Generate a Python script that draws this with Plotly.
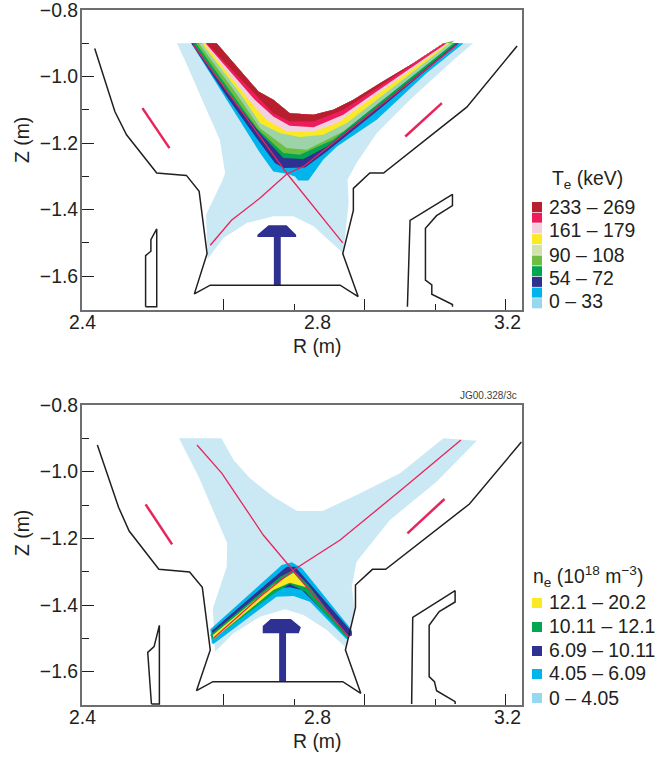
import plotly.graph_objects as go

# ---------- colours ----------
DARKRED, CRIMSON, PINK, YELLOW = "#b71f2e", "#ed1c5c", "#f3d0e0", "#fbe924"
PALE, SEAFOAM, MIDGREEN, GREEN = "#cfe3ab", "#9dd3a8", "#6fbe44", "#00a651"
NAVY, CYAN, SKY, BAND0 = "#2e3192", "#00b4ec", "#96d8f0", "#cbe9f4"
LINE = "#e8245a"
INK = "#231f20"
FONT = "Liberation Sans, Arial, sans-serif"
TXT = 19.4

# ---------- axis ticks ----------
x_major = [2.6667, 2.9333, 3.2]
x_minor = [2.8, 3.0667]
y_major = [-0.8, -1.0, -1.2, -1.4, -1.6]
y_minor = [-0.9, -1.1, -1.3, -1.5]
y_labels = ["−0.8", "−1.0", "−1.2", "−1.4", "−1.6"]
x_labels = ["2.4", "2.8", "3.2"]
x_label_at = [2.4, 2.844, 3.203]

# ---------- top panel: machine outline ----------
wall_r_t = [2.424,2.462,2.484,2.541,2.597,2.621,2.636,2.612,2.642,2.887,2.921,2.892,2.912,2.912,2.943,2.969,3.126,3.221]
wall_z_t = [-.916,-1.105,-1.175,-1.29,-1.297,-1.345,-1.532,-1.653,-1.627,-1.627,-1.661,-1.532,-1.402,-1.336,-1.29,-1.29,-1.092,-.908]
rstruct_r_t = [3.014,3.019,3.099,3.099,3.069,3.048,3.048,3.060,3.060,3.099,3.099]
rstruct_z_t = [-1.692,-1.432,-1.354,-1.388,-1.418,-1.456,-1.612,-1.626,-1.654,-1.685,-1.692]
lstruct_r_t = [2.520,2.520,2.530,2.530,2.541,2.541,2.520]
lstruct_z_t = [-1.692,-1.538,-1.525,-1.49,-1.458,-1.692,-1.692]
tee_r_t = [2.731,2.752,2.786,2.804,2.804,2.775,2.775,2.762,2.762,2.731]
tee_z_t = [-1.475,-1.447,-1.447,-1.475,-1.482,-1.482,-1.627,-1.627,-1.482,-1.482]

# ---------- top panel: separatrix and strike lines ----------
sepA_r_t = [2.610,2.787,2.892]
sepA_z_t = [-.905,-1.292,-1.50]
sepB_r_t = [3.107,2.937,2.818,2.787,2.736,2.682,2.642]
sepB_z_t = [-.905,-1.12,-1.27,-1.292,-1.365,-1.432,-1.507]
strikeL_r_t, strikeL_z_t = [2.514,2.565], [-1.095,-1.215]
strikeR_r_t, strikeR_z_t = [3.010,3.079], [-1.18,-1.08]

# ---------- top panel: Te bands ----------
te0_r = [2.579,2.594,2.635,2.660,2.670,2.664,2.634,2.635,2.637,2.667,2.711,2.761,2.799,2.837,2.868,2.893,2.903,2.901,2.918,2.956,3.019,3.101,3.138]
te0_z = [-.9,-.95,-1.10,-1.19,-1.29,-1.315,-1.415,-1.47,-1.548,-1.485,-1.44,-1.42,-1.42,-1.45,-1.495,-1.532,-1.38,-1.31,-1.26,-1.17,-1.07,-.95,-.9]
ridge_r = [2.654,2.733,2.761,2.792,2.837,2.874,2.912,2.962,3.025,3.082]
ridge_z = [-.9,-1.045,-1.07,-1.11,-1.115,-1.10,-1.07,-1.02,-.96,-.9]
te_cyan_r = [2.606,2.673,2.736,2.761,2.786,2.802,2.808,2.827,2.855,2.881,2.956,3.050,3.120]
te_cyan_z = [-.9,-1.07,-1.23,-1.285,-1.292,-1.30,-1.312,-1.312,-1.25,-1.21,-1.13,-.99,-.9]
te_navy_r = [2.606,2.673,2.736,2.764,2.780,2.821,2.862,2.956,3.111]
te_navy_z = [-.9,-1.06,-1.20,-1.26,-1.275,-1.273,-1.225,-1.105,-.9]
te_green_r = [2.610,2.673,2.736,2.780,2.818,2.862,2.943,3.107]
te_green_z = [-.9,-1.045,-1.17,-1.245,-1.248,-1.21,-1.11,-.9]
te_mid_r = [2.615,2.673,2.730,2.780,2.811,2.874,3.103]
te_mid_z = [-.9,-1.03,-1.155,-1.23,-1.235,-1.19,-.892]
te_sea_r = [2.620,2.686,2.736,2.786,2.824,2.893,3.101]
te_sea_z = [-.9,-1.04,-1.155,-1.215,-1.22,-1.165,-.9]
te_yel_r = [2.626,2.698,2.736,2.774,2.811,2.855,2.899,3.094]
te_yel_z = [-.9,-1.05,-1.14,-1.17,-1.182,-1.175,-1.14,-.9]
te_pink_r = [2.630,2.717,2.748,2.786,2.837,2.881,2.956,3.091]
te_pink_z = [-.9,-1.075,-1.13,-1.165,-1.165,-1.14,-1.055,-.9]
te_crim_r = [2.633,2.726,2.761,2.792,2.837,2.893,2.956,3.088]
te_crim_z = [-.9,-1.07,-1.12,-1.148,-1.152,-1.115,-1.045,-.9]
te_dark_r = [2.635,2.730,2.761,2.792,2.837,2.893,2.956,3.082]
te_dark_z = [-.9,-1.06,-1.11,-1.135,-1.135,-1.10,-1.035,-.9]

# ---------- bottom panel: machine outline ----------
wall_r_b = [2.429,2.469,2.489,2.545,2.603,2.627,2.642,2.616,2.647,2.892,2.926,2.897,2.916,2.916,2.948,2.973,3.131,3.229]
wall_z_b = [-.92,-1.107,-1.178,-1.293,-1.301,-1.347,-1.535,-1.657,-1.63,-1.63,-1.665,-1.535,-1.407,-1.34,-1.293,-1.293,-1.097,-.911]
rstruct_r_b = [3.022,3.024,3.104,3.104,3.074,3.055,3.055,3.065,3.069,3.104,3.104]
rstruct_z_b = [-1.697,-1.437,-1.357,-1.391,-1.42,-1.461,-1.615,-1.63,-1.657,-1.69,-1.697]
lstruct_r_b = [2.531,2.524,2.536,2.546,2.546,2.531]
lstruct_z_b = [-1.697,-1.542,-1.525,-1.461,-1.697,-1.697]
tee_r_b = [2.741,2.741,2.756,2.794,2.813,2.809,2.785,2.785,2.772,2.772]
tee_z_b = [-1.485,-1.463,-1.442,-1.442,-1.467,-1.485,-1.485,-1.63,-1.63,-1.485]

# ---------- bottom panel: separatrix and strike lines ----------
sepA_r_b = [2.617,2.664,2.742,2.789,2.903]
sepA_z_b = [-.92,-1.005,-1.19,-1.28,-1.495]
sepB_r_b = [3.115,3.006,2.887,2.799,2.736,2.648]
sepB_z_b = [-.905,-1.05,-1.205,-1.295,-1.375,-1.50]
strikeL_r_b, strikeL_z_b = [2.520,2.570], [-1.098,-1.218]
strikeR_r_b, strikeR_z_b = [3.014,3.084], [-1.185,-1.082]

# ---------- bottom panel: ne bands ----------
ne0_r = [2.583,2.663,2.686,2.717,2.761,2.806,2.854,2.925,3.000,3.082,3.145,3.069,2.981,2.918,2.909,2.914,2.896,2.862,2.818,2.783,2.736,2.686,2.651,2.647,2.673,2.674,2.620]
ne0_z = [-.9,-.9,-.965,-1.02,-1.075,-1.118,-1.118,-1.065,-1.005,-.9,-.907,-1.03,-1.145,-1.27,-1.345,-1.41,-1.525,-1.475,-1.43,-1.413,-1.435,-1.485,-1.54,-1.41,-1.285,-1.215,-1.015]
ne_cyan_r = [2.642,2.777,2.796,2.815,2.909,2.909,2.899,2.830,2.799,2.767,2.648,2.645]
ne_cyan_z = [-1.473,-1.28,-1.272,-1.29,-1.475,-1.49,-1.503,-1.39,-1.373,-1.375,-1.517,-1.515]
ne_navy_r = [2.645,2.786,2.802,2.909,2.909,2.901,2.815,2.792,2.770,2.649]
ne_navy_z = [-1.477,-1.285,-1.285,-1.48,-1.492,-1.492,-1.355,-1.347,-1.35,-1.50]
ne_green_r = [2.642,2.774,2.799,2.827,2.903,2.896,2.821,2.792,2.761,2.647]
ne_green_z = [-1.49,-1.315,-1.295,-1.34,-1.50,-1.493,-1.36,-1.337,-1.367,-1.503]
ne_yel_r = [2.647,2.761,2.799,2.823,2.792,2.761,2.648]
ne_yel_z = [-1.49,-1.34,-1.303,-1.347,-1.333,-1.355,-1.503]

# ---------- legends ----------
te_title = "T<sub>e</sub> (keV)"
te_colors = [DARKRED, CRIMSON, PINK, YELLOW, PALE, MIDGREEN, GREEN, NAVY, CYAN, SKY]
te_texts = ["233 – 269", "161 – 179", "90 – 108", "54 – 72", "0 – 33"]
ne_title = "n<sub>e</sub> (10<sup>18</sup> m<sup>−3</sup>)"
ne_colors = [YELLOW, GREEN, NAVY, CYAN, SKY]
ne_texts = ["12.1 – 20.2", "10.11 – 12.1", "6.09 – 10.11", "4.05 – 6.09", "0 – 4.05"]

W, H = 661, 760
def px(x): return x / W
def py(y): return 1 - y / H

fig = go.Figure()

def poly(r, z, color, ax):
    fig.add_trace(go.Scatter(x=r, y=z, mode="lines", fill="toself", fillcolor=color,
                             line=dict(width=0, color=color), hoverinfo="skip",
                             showlegend=False, xaxis=ax[0], yaxis=ax[1]))

def band(lower_r, lower_z, color, ax):
    poly(lower_r + ridge_r[::-1], lower_z + ridge_z[::-1], color, ax)

def line(r, z, color, width, ax):
    fig.add_trace(go.Scatter(x=r, y=z, mode="lines", line=dict(color=color, width=width),
                             hoverinfo="skip", showlegend=False, xaxis=ax[0], yaxis=ax[1]))

TOP = ("x", "y")
BOT = ("x2", "y2")

# top panel
for lr, lz, c in [(te0_r, te0_z, BAND0), (te_cyan_r, te_cyan_z, CYAN), (te_navy_r, te_navy_z, NAVY),
                  (te_green_r, te_green_z, GREEN), (te_mid_r, te_mid_z, MIDGREEN),
                  (te_sea_r, te_sea_z, SEAFOAM), (te_yel_r, te_yel_z, YELLOW),
                  (te_pink_r, te_pink_z, PINK), (te_crim_r, te_crim_z, CRIMSON),
                  (te_dark_r, te_dark_z, DARKRED)]:
    band(lr, lz, c, TOP)
poly(tee_r_t, tee_z_t, NAVY, TOP)
line(wall_r_t, wall_z_t, INK, 1.5, TOP)
line(rstruct_r_t, rstruct_z_t, INK, 1.5, TOP)
line(lstruct_r_t, lstruct_z_t, INK, 1.5, TOP)
line(sepA_r_t, sepA_z_t, LINE, 1.3, TOP)
line(sepB_r_t, sepB_z_t, LINE, 1.3, TOP)
line(strikeL_r_t, strikeL_z_t, LINE, 2.5, TOP)
line(strikeR_r_t, strikeR_z_t, LINE, 2.5, TOP)

# bottom panel
poly(ne0_r, ne0_z, BAND0, BOT)
for r, z, c in [(ne_cyan_r, ne_cyan_z, CYAN), (ne_navy_r, ne_navy_z, NAVY),
                (ne_green_r, ne_green_z, GREEN), (ne_yel_r, ne_yel_z, YELLOW)]:
    poly(r, z, c, BOT)
poly(tee_r_b, tee_z_b, NAVY, BOT)
line(wall_r_b, wall_z_b, INK, 1.5, BOT)
line(rstruct_r_b, rstruct_z_b, INK, 1.5, BOT)
line(lstruct_r_b, lstruct_z_b, INK, 1.5, BOT)
line(sepA_r_b, sepA_z_b, LINE, 1.3, BOT)
line(sepB_r_b, sepB_z_b, LINE, 1.3, BOT)
line(strikeL_r_b, strikeL_z_b, LINE, 2.5, BOT)
line(strikeR_r_b, strikeR_z_b, LINE, 2.5, BOT)

xdom = [px(82), px(522)]
common_x = dict(range=[2.4, 3.2302], domain=xdom, showgrid=False, zeroline=False, automargin=False,
                showline=True, mirror=True, linecolor="#6d6e71", linewidth=2,
                tickmode="array", tickvals=x_major, showticklabels=False,
                ticks="inside", ticklen=11, tickcolor=INK, tickwidth=1,
                minor=dict(tickmode="array", tickvals=x_minor, ticks="inside",
                           ticklen=6, tickcolor=INK, tickwidth=1, showgrid=False))
common_y = dict(range=[-1.7, -0.8], showgrid=False, zeroline=False, automargin=False,
                showline=True, mirror=True, linecolor="#6d6e71", linewidth=2,
                tickmode="array", tickvals=y_major, ticktext=y_labels, ticklabelstandoff=-2,
                ticklabeloverflow="allow",
                tickfont=dict(family=FONT, size=TXT, color=INK),
                ticks="inside", ticklen=12, tickcolor=INK, tickwidth=1,
                minor=dict(tickmode="array", tickvals=y_minor, ticks="inside",
                           ticklen=7, tickcolor=INK, tickwidth=1, showgrid=False))

shapes, ann = [], []

def text(x, y, s, size=TXT, anchor="center", angle=0, color=INK):
    ann.append(dict(x=px(x), y=py(y), xref="paper", yref="paper", text=s, showarrow=False,
                    xanchor=anchor, yanchor="middle", textangle=angle,
                    font=dict(family=FONT, size=size, color=color)))

# tick labels and axis titles placed on the data axes / page
for xa, ya_px in [("x", 322), ("x2", 717)]:
    for lab, at in zip(x_labels, x_label_at):
        ann.append(dict(x=at, y=py(ya_px), xref=xa, yref="paper", text=lab, showarrow=False,
                        xanchor="center", yanchor="middle",
                        font=dict(family=FONT, size=TXT, color=INK)))
text(317, 346, "R (m)"); text(317, 741, "R (m)")
text(22, 140, "Z (m)", angle=-90); text(22, 533, "Z (m)", angle=-90)
text(488, 396, "JG00.328/3c", size=10, color="#414042")

# legends
y0 = 202
for i, c in enumerate(te_colors):
    shapes.append(dict(type="rect", xref="paper", yref="paper",
                       x0=px(532), x1=px(542), y0=py(y0 + i * 10.7), y1=py(y0 + i * 10.7 + 10),
                       fillcolor=c, line=dict(width=0)))
text(550, 180, te_title, anchor="left")
for s, y in zip(te_texts, [207, 230, 255, 278, 301]):
    text(547, y, s, anchor="left")

for c, y in zip(ne_colors, [598, 622, 646, 669, 693]):
    shapes.append(dict(type="rect", xref="paper", yref="paper",
                       x0=px(532), x1=px(542), y0=py(y), y1=py(y + 10),
                       fillcolor=c, line=dict(width=0)))
text(531, 576, ne_title, anchor="left")
for s, y in zip(ne_texts, [602, 626, 650, 673, 698]):
    text(547, y, s, anchor="left")

fig.update_layout(
    width=W, height=H, autosize=False, showlegend=False,
    margin=dict(l=0, r=0, t=0, b=0),
    paper_bgcolor="white", plot_bgcolor="white",
    xaxis=dict(common_x, anchor="y"),
    yaxis=dict(common_y, domain=[py(309.5), py(10)], anchor="x"),
    xaxis2=dict(common_x, anchor="y2"),
    yaxis2=dict(common_y, domain=[py(705), py(405)], anchor="x2"),
    shapes=shapes, annotations=ann,
)

fig.write_html("out.html", config=dict(displayModeBar=False),
               post_script="document.body.style.margin='0';document.body.style.overflow='hidden';")
